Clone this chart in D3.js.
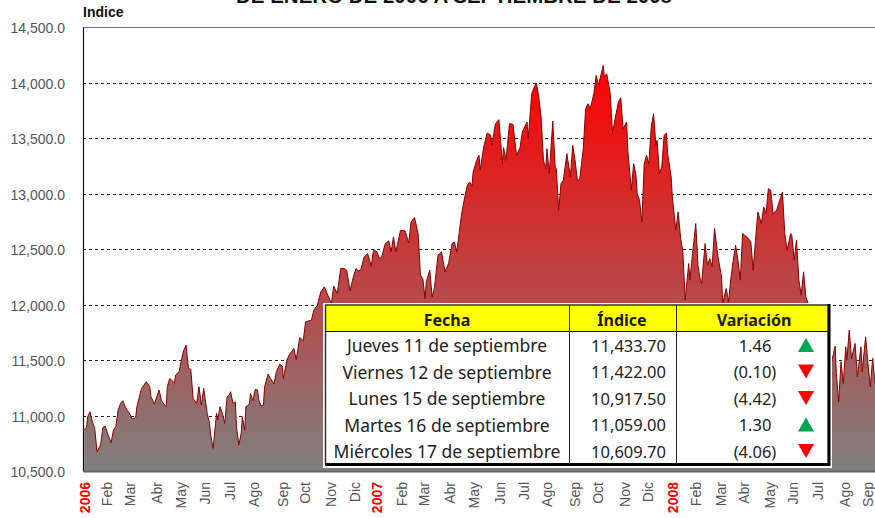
<!DOCTYPE html>
<html>
<head>
<meta charset="utf-8">
<script src="https://cdn.jsdelivr.net/npm/d3@7/dist/d3.min.js"></script>
<style>
html,body{margin:0;padding:0;background:#fff;overflow:hidden}
svg{display:block}
</style>
</head>
<body>
<svg id="c" width="875" height="518"></svg>
<script>
const sessions = [1,3,4,6,8,10,12,13,15,17,19,20,22,24,26,28,30,32,34,36,38,40,42,45,46,48,50,52,54,57,58,61,62,65,67,69,71,72,74,77,78,79,82,84,86,88,90,92,94,97,99,101,103,
106,108,109,111,113,114,115,117,119,121,123,125,126,128,130,131,133,135,136,138,139,142,143,145,147,149,150,152,154,155,158,160,163,165,168,170,171,174,176,180,182,185,188,190,195,197,200,203,206,
209,212,214,217,220,223,225,228,230,233,235,237,240,243,246,248,251,253,255,258,261,263,265,267,271,275,278,280,283,286,288,290,292,293,296,298,300,303,306,309,312,315,317,319,323,
325,328,330,332,333,336,338,339,342,345,348,349,352,355,358,359,361,364,367,370,373,375,379,380,383,385,387,389,391,393,395,396,398,401,403,404,406,408,410,413,416,418,420,422,424,427,429,
431,433,436,438,440,444,445,447,450,452,454,457,459,461,464,465,468,470,472,473,475,477,479,481,483,485,487,489,490,492,494,496,498,499,502,503,506,508,510,512,514,517,518,520,523,525,527,528,531,533,535,537,
539,542,545,546,549,551,553,555,557,559,561,563,568,570,572,574,576,579,581,583,585,587,589,592,597,599,601,604,605,607,609,611,613,615,617,619,
625,630,635,637,639,642,643,645,647,649,651,652,654,656,659,661,664,665,668,670,672,674,676];

const closes = [10875,10893,10989,11034,10944,10884,10674,10695,10734,10893,10905,10869,10809,10755,10869,10899,11049,11109,11133,11079,11043,11013,10965,10983,11079,11163,11244,11274,11304,11259,11169,11103,11139,11229,11133,11103,11079,11259,11334,11304,11289,11364,11394,11499,11589,11634,11424,11415,11154,11109,11259,11094,11244,
11019,10929,10824,10704,10914,11019,10959,11079,11019,10929,11169,11184,11214,11109,11124,10899,10734,10839,10989,10869,11079,11103,11199,11133,11235,11229,11139,11085,11094,11259,11373,11334,11283,11394,11463,11445,11334,11499,11544,11604,11505,11703,11673,11844,11859,11949,11994,12114,12159,
12084,12009,12165,12099,12324,12324,12309,12123,12219,12324,12303,12309,12429,12459,12345,12495,12474,12414,12429,12549,12573,12474,12609,12474,12669,12663,12555,12744,12783,12639,12264,12234,12054,12204,12309,12069,12153,12444,12474,12294,12369,12549,12564,12474,12804,
12924,13074,13104,13065,13194,13299,13344,13209,13419,13545,13524,13434,13629,13665,13269,13413,13299,13629,13623,13344,13413,13554,13644,13494,13899,13953,13995,13869,13689,13299,13224,13404,13179,13653,13239,13224,12849,13089,13119,13359,13149,13434,13299,13113,13134,13404,13764,
13809,13764,13899,14064,13974,14154,14049,14079,13899,13539,13665,13824,13863,13584,13644,13389,13029,13269,13164,12999,12939,12744,13269,13344,13269,13599,13719,13434,13479,13179,13239,13524,13545,13359,13149,12969,12669,12834,12609,12474,12039,12369,12219,12429,12729,12339,12219,12189,12549,12354,12414,12339,
12684,12429,12249,12009,12144,12024,12234,12399,12534,12399,12219,12639,12594,12564,12309,12579,12834,12729,12879,12819,13044,13029,12819,12849,13014,12639,12489,12639,12624,12399,12579,12219,12084,12294,12069,12009,
11400,11100,11250,11469,11484,11625,11379,11124,11484,11289,11619,11499,11769,11514,11649,11349,11619,11394,11709,11469,11259,11514,11289];

const yTicks = [10500,11000,11500,12000,12500,13000,13500,14000,14500];
const monthLabels = ["2006","Feb","Mar","Abr","May","Jun","Jul","Ago","Sep","Oct","Nov","Dic","2007","Feb","Mar","Abr","May","Jun","Jul","Ago","Sep","Oct","Nov","Dic","2008","Feb","Mar","Abr","May","Jun","Jul","Ago","Sep"];
const monthSessions = [1,20,40,63,83,104,125,146,170,189,211,232,251,272,291,313,333,356,376,396,420,439,462,482,503,523,544,564,586,606,627,650,670];

const tableHeaders = ["Fecha","Índice","Variación"];
const tableDates = ["Jueves 11 de septiembre","Viernes 12 de septiembre","Lunes 15 de septiembre","Martes 16 de septiembre","Miércoles 17 de septiembre"];
const tableIndex = ["11,433.70","11,422.00","10,917.50","11,059.00","10,609.70"];
const tableChange = [1.46,-0.10,-4.42,1.30,-4.06];

const svg = d3.select("#c");
const x = d3.scaleLinear().domain([0,676]).range([83,875]);
const y = d3.scaleLinear().domain([10500,14500]).range([471,27]);

const defs = svg.append("defs");
const grad = defs.append("linearGradient").attr("id","g").attr("gradientUnits","userSpaceOnUse")
  .attr("x1",0).attr("x2",0).attr("y1",y(14170)).attr("y2",y(10500));
grad.append("stop").attr("offset",0).attr("stop-color","#ff0000");
grad.append("stop").attr("offset",1).attr("stop-color","#808080");

// title, cut by the top edge as in the reference
svg.append("text").attr("x",454).attr("y",3).attr("text-anchor","middle")
  .attr("font-family","Liberation Sans").attr("font-weight","bold").attr("font-size",20.5).attr("fill","#111")
  .text("DE ENERO DE 2006 A SEPTIEMBRE DE 2008");
svg.append("text").attr("x",83).attr("y",17)
  .attr("font-family","Liberation Sans").attr("font-weight","bold").attr("font-size",14).attr("fill","#111")
  .text("Indice");

// grid
svg.append("g").selectAll("line").data(yTicks.filter(d=>d>10500&&d<14500)).join("line")
  .attr("x1",83).attr("x2",875).attr("y1",d=>Math.round(y(d))+0.5).attr("y2",d=>Math.round(y(d))+0.5)
  .attr("stroke","#222").attr("stroke-dasharray","3,3").attr("stroke-width",1);
svg.append("line").attr("x1",83).attr("x2",875).attr("y1",27.5).attr("y2",27.5).attr("stroke","#777").attr("stroke-width",1);

// area and line
const pts = sessions.map((s,i)=>[s,closes[i]]);
svg.append("path").datum(pts)
  .attr("d",d3.area().x(d=>x(d[0])).y0(y(10500)).y1(d=>y(d[1])))
  .attr("fill","url(#g)");
svg.append("path").datum(pts)
  .attr("d",d3.line().x(d=>x(d[0])).y(d=>y(d[1])))
  .attr("fill","none").attr("stroke","#8b0000").attr("stroke-width",1);

// axes
const yAxis = svg.append("g").attr("transform","translate(83,0)")
  .call(d3.axisLeft(y).tickValues(yTicks).tickFormat(d3.format(",.1f")).tickSize(0).tickPadding(18));
yAxis.select(".domain").attr("stroke","#111").attr("stroke-width",1.2);
yAxis.selectAll("text").attr("font-family","Liberation Sans").attr("font-size",14).attr("fill","#555").attr("dy","0.4em");

const xAxis = svg.append("g").attr("transform","translate(0,471)")
  .call(d3.axisBottom(x).tickValues(monthSessions).tickFormat((d,i)=>monthLabels[i]).tickSize(0));
xAxis.select(".domain").attr("stroke","#666").attr("stroke-width",2);
xAxis.selectAll("text")
  .attr("font-family","Liberation Sans").attr("font-size",14)
  .attr("transform",d=>`translate(0,11) rotate(-90)`)
  .attr("x",0).attr("y",0).attr("dy","0.35em").attr("text-anchor","end")
  .attr("fill",(d,i)=>/^\d/.test(monthLabels[i])?"#ff0000":"#555")
  .attr("font-weight",(d,i)=>/^\d/.test(monthLabels[i])?"bold":"normal");

// table
const tf = "Noto Sans";
const rowY = d3.scalePoint().domain(d3.range(5)).range([346,452]);
const t = svg.append("g");
t.append("rect").attr("x",323).attr("y",303).attr("width",509).attr("height",165).attr("fill","#fff");
t.append("rect").attr("x",325.5).attr("y",305.5).attr("width",503).attr("height",26).attr("fill","#ffff00");
t.append("rect").attr("x",325.5).attr("y",305).attr("width",503).attr("height",159).attr("fill","none").attr("stroke","#333").attr("stroke-width",1.5);
t.append("line").attr("x1",325).attr("x2",829).attr("y1",331.5).attr("y2",331.5).attr("stroke","#111");
t.append("line").attr("x1",325).attr("x2",830).attr("y1",464.5).attr("y2",464.5).attr("stroke","#000").attr("stroke-width",3);
t.append("line").attr("x1",829).attr("x2",829).attr("y1",304).attr("y2",466).attr("stroke","#000").attr("stroke-width",3);
[569.5,676.5].forEach(v=>t.append("line").attr("x1",v).attr("x2",v).attr("y1",305).attr("y2",464).attr("stroke","#222"));

const hx = [447,622,754];
t.selectAll("text.h").data(tableHeaders).join("text").attr("class","h")
  .attr("x",(d,i)=>hx[i]).attr("y",320).attr("dy","0.35em").attr("text-anchor","middle")
  .attr("font-family",tf).attr("font-weight","bold").attr("font-size",16).attr("fill","#1a1a00").text(d=>d);
const rowText = (sel,size)=>sel.attr("font-family",tf).attr("font-size",size).attr("fill","#222").attr("dy","0.35em");
t.selectAll("text.d").data(tableDates).join("text").attr("class","d")
  .attr("x",447).attr("y",(d,i)=>rowY(i)).attr("text-anchor","middle").text(d=>d).call(rowText,17.5);
t.selectAll("text.i").data(tableIndex).join("text").attr("class","i")
  .attr("x",666).attr("y",(d,i)=>rowY(i)).attr("text-anchor","end").text(d=>d).call(rowText,16.5);
t.selectAll("text.v").data(tableChange).join("text").attr("class","v")
  .attr("x",755).attr("y",(d,i)=>rowY(i)).attr("text-anchor","middle")
  .text(d=>d<0?`(${Math.abs(d).toFixed(2)})`:d.toFixed(2)).call(rowText,16.5);
t.selectAll("path.a").data(tableChange).join("path").attr("class","a")
  .attr("transform",(d,i)=>`translate(806,${rowY(i)-1})`)
  .attr("d",d=>d>=0?"M-8,7L8,7L0,-7Z":"M-8,-7L8,-7L0,7Z")
  .attr("fill",d=>d>=0?"#00a651":"#ff0000");
</script>
</body>
</html>
